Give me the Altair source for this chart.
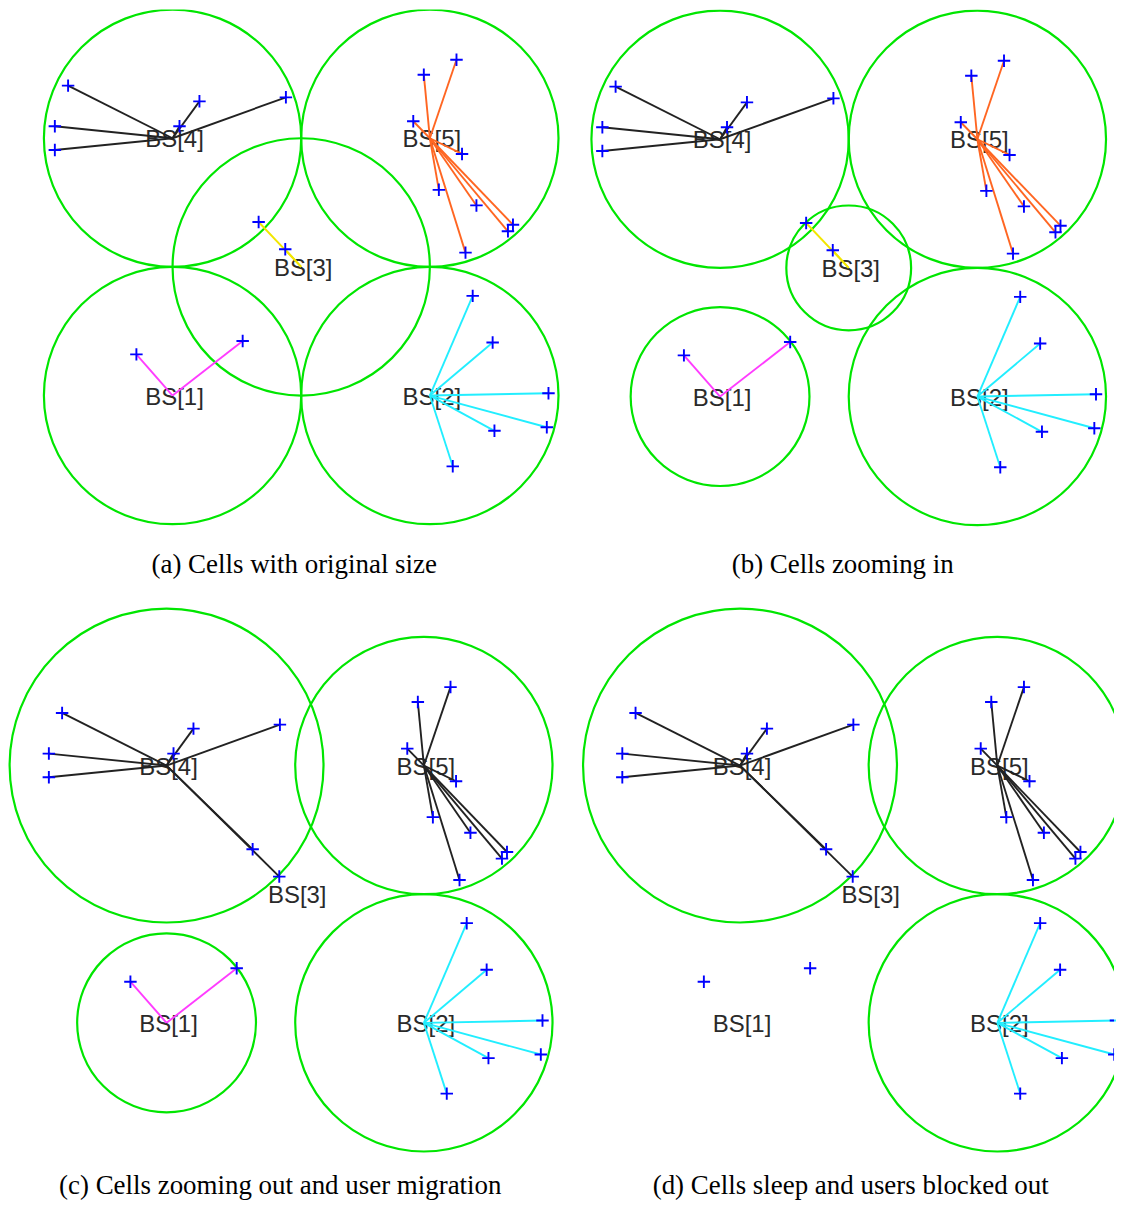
import altair as alt
import pandas as pd

# ---------------- data (cell-grid units, BS[1] at origin) ----------------
BS_NAMES = ["BS[1]", "BS[2]", "BS[3]", "BS[4]", "BS[5]"]
BS_X = [0.0, 2.0, 1.0, 0.0, 2.0]
BS_Y = [0.0, 0.0, 1.0, 2.0, 2.0]

USER_X = [-0.281, 0.545,
          2.333, 2.488, 2.922, 2.909, 2.502, 2.178,
          0.669, 0.876,
          -0.812, -0.915, -0.915, 0.054, 0.209, 0.881,
          1.953, 2.207, 1.871, 2.250, 2.070, 2.362, 2.646, 2.607, 2.277]
USER_Y = [0.320, 0.424,
          0.775, 0.413, 0.018, -0.246, -0.274, -0.550,
          1.349, 1.137,
          2.409, 2.093, 1.909, 2.093, 2.287, 2.318,
          2.494, 2.610, 2.132, 1.878, 1.599, 1.478, 1.328, 1.277, 1.111]
USER_HOME = [1, 1,
             2, 2, 2, 2, 2, 2,
             3, 3,
             4, 4, 4, 4, 4, 4,
             5, 5, 5, 5, 5, 5, 5, 5, 5]

CAPTIONS = ["(a) Cells with original size",
            "(b) Cells zooming in",
            "(c) Cells zooming out and user migration",
            "(d) Cells sleep and users blocked out"]

# cell radius of each BS per panel (None = cell asleep, no coverage circle)
RADII = [[1.0, 1.0, 1.0, 1.0, 1.0],
         [0.695, 1.0, 0.485, 1.0, 1.0],
         [0.695, 1.0, None, 1.22, 1.0],
         [None, 1.0, None, 1.22, 1.0]]
# serving BS of the users of each home BS, per panel (None = blocked out)
SERVING = [{1: 1, 2: 2, 3: 3, 4: 4, 5: 5},
           {1: 1, 2: 2, 3: 3, 4: 4, 5: 5},
           {1: 1, 2: 2, 3: 4, 4: 4, 5: 5},
           {1: None, 2: 2, 3: 4, 4: 4, 5: 5}]
# link colour group of each serving BS, per panel
LINK_GROUP = [{1: "magenta", 2: "cyan", 3: "yellow", 4: "black", 5: "orange"},
              {1: "magenta", 2: "cyan", 3: "yellow", 4: "black", 5: "orange"},
              {1: "magenta", 2: "cyan", 4: "black", 5: "black"},
              {2: "cyan", 4: "black", 5: "black"}]

# ---------------- layout / style ----------------
PPU = 129.0                     # pixels per grid unit
WIDTHS = [554, 554, 554, 554]
HEIGHTS = [528, 528, 559, 559]
ORIGINS = [(165, 387), (159, 388), (159, 424), (179, 424)]   # BS[1] offset inside plot
CAP_DX = [10, 5, -4, 13]
NO_PAD = {"left": 0, "top": 0, "right": 0, "bottom": 0}

LINK_DOMAIN = ["magenta", "cyan", "yellow", "black", "orange"]
LINK_RANGE = ["#ff3cff", "#22eeff", "#f2e600", "#222222", "#ff6622"]
GREEN = "#00e600"
BLUE = "#0000ff"
PLUS = "M-1,0L1,0M0,-1L0,1"


def panel(k):
    W, H = WIDTHS[k], HEIGHTS[k]
    ox, oy = ORIGINS[k]
    xs = alt.Scale(domain=[-ox / PPU, (W - ox) / PPU], nice=False, zero=False)
    ys = alt.Scale(domain=[-(H - oy) / PPU, oy / PPU], nice=False, zero=False)
    clip_pts = k == 3

    radii = RADII[k]
    cells = pd.DataFrame({
        "x": [BS_X[i] for i in range(5) if radii[i] is not None],
        "y": [BS_Y[i] for i in range(5) if radii[i] is not None],
        "r": [radii[i] for i in range(5) if radii[i] is not None],
    })
    bs = pd.DataFrame({"x": BS_X, "y": BS_Y, "name": BS_NAMES})
    users = pd.DataFrame({"x": USER_X, "y": USER_Y})

    rows = []
    for ux, uy, h in zip(USER_X, USER_Y, USER_HOME):
        s = SERVING[k][h]
        if s is None:
            continue
        rows.append({"x": ux, "y": uy, "x2": BS_X[s - 1], "y2": BS_Y[s - 1],
                     "g": LINK_GROUP[k][s]})
    links = pd.DataFrame(rows)

    X = lambda f: alt.X(f, type="quantitative", scale=xs, axis=None)
    Y = lambda f: alt.Y(f, type="quantitative", scale=ys, axis=None)

    circles = alt.Chart(cells).mark_point(
        shape="circle", filled=False, color=GREEN, strokeWidth=2.2, opacity=1, clip=True
    ).encode(
        x=X("x"), y=Y("y"),
        size=alt.Size("r:Q", legend=None,
                      scale=alt.Scale(type="pow", exponent=2, domain=[0, 1.5],
                                      range=[0, (2 * 1.5 * PPU) ** 2])),
    )
    labels = alt.Chart(bs).mark_text(
        font="Liberation Sans", fontSize=24, color="#2a2a2a",
        align="center", baseline="middle", dx=2, dy=2
    ).encode(x=X("x"), y=Y("y"), text="name:N")
    lines = alt.Chart(links).mark_rule(strokeWidth=1.9).encode(
        x=X("x"), y=Y("y"), x2="x2:Q", y2="y2:Q",
        color=alt.Color("g:N", legend=None,
                        scale=alt.Scale(domain=LINK_DOMAIN, range=LINK_RANGE)),
    )
    pts = alt.Chart(users).mark_point(
        shape=PLUS, filled=False, color=BLUE, strokeWidth=1.9, size=156,
        opacity=1, clip=clip_pts
    ).encode(x=X("x"), y=Y("y"))

    return alt.layer(circles, labels, lines, pts).properties(
        width=W, height=H,
        title=alt.TitleParams(
            CAPTIONS[k], orient="bottom", frame="group", anchor="middle",
            offset=37, baseline="alphabetic", dx=CAP_DX[k],
            font="Liberation Serif", fontSize=27, fontWeight="normal", color="#000000",
        ),
    )


top = alt.hconcat(panel(0), panel(1), spacing=1)
bottom = alt.hconcat(panel(2), panel(3), spacing=1)
chart = alt.vconcat(top, bottom, spacing=22).properties(
    padding=NO_PAD, background="white"
).configure(padding=NO_PAD).configure_view(strokeWidth=0)

chart.save("out.html", embed_options={"renderer": "svg", "actions": False})
